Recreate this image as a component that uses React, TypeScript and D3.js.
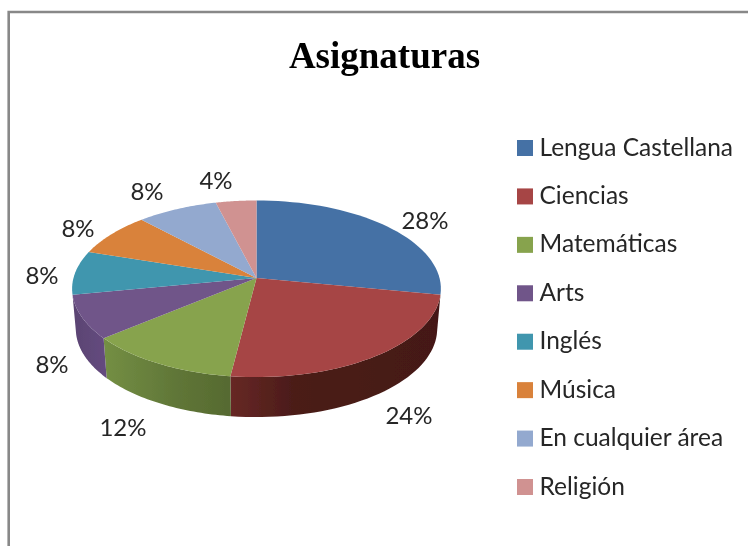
import React from "react";
import * as d3 from "d3";

const categories = ["Lengua Castellana", "Ciencias", "Matemáticas", "Arts", "Inglés", "Música", "En cualquier área", "Religión"];
const shares = [28, 24, 12, 8, 8, 8, 8, 4];
const topColors = ["#4471a5", "#a64544", "#87a34d", "#6f5489", "#3f96ae", "#d9823b", "#93a9cf", "#d09291"];
const wallStops: Record<number, [number, string][]> = {
  1: [[0, "#672825"], [0.3, "#4b1c19"], [1, "#441916"]],
  2: [[0, "#748f44"], [0.6, "#5f7537"], [1, "#566a30"]],
  3: [[0, "#5a4372"], [1, "#644b7e"]],
};
const titleText = "Asignaturas";

// layout constants
const W = 748, H = 546;
const apex = { x: 256.5, y: 278 };
const R = 183, V = 87, K = 0.122, DEPTH = 40, BOTTOM_SCALE = 0.98;
const labelAnchors: [number, number][] = [[425, 229], [409, 424], [123, 436], [52, 373], [42, 284], [78, 237], [147, 200], [216, 189]];
const FRONT = [1.75, 4.53];

const pie = d3.pie<number>().sort(null)(shares);
const sx = d3.scaleLinear().domain([-1, 1]).range([apex.x - R, apex.x + R]);
const sy = d3.scaleLinear().domain([-1, 1]).range([apex.y + V, apex.y - V]);

function project(a: number): [number, number] {
  const w = 1 + K * Math.cos(a);
  return [sx(Math.sin(a) / w), sy(Math.cos(a) / w)];
}
function projectBottom(a: number): [number, number] {
  const [x, y] = project(a);
  return [apex.x + (x - apex.x) * BOTTOM_SCALE, y + DEPTH];
}
const line = d3.line();
const steps = (a0: number, a1: number) => d3.range(0, 41).map((i) => a0 + ((a1 - a0) * i) / 40);

function topPath(a0: number, a1: number) {
  return line([[apex.x, apex.y], ...steps(a0, a1).map(project)]) + "Z";
}
function wallPath(a0: number, a1: number) {
  return line([...steps(a0, a1).map(project), ...steps(a1, a0).map(projectBottom)]) + "Z";
}

const legendY = d3.scalePoint<string>().domain(categories).range([148, 487]);

export default function App() {
  const walls = pie
    .map((s, i) => ({ i, a0: Math.max(s.startAngle, FRONT[0]), a1: Math.min(s.endAngle, FRONT[1]) }))
    .filter((d) => d.a0 < d.a1 && wallStops[d.i]);
  return (
    <svg width={W} height={H} viewBox={`0 0 ${W} ${H}`} style={{ position: "absolute", left: 0, top: 0, background: "#fff" }}>
      <defs>
        <filter id="soft" x="-5%" y="-5%" width="110%" height="110%">
          <feGaussianBlur stdDeviation="0.55" />
        </filter>
        {walls.map((d) => {
          const xs = [...steps(d.a0, d.a1).map((a) => project(a)[0])];
          return (
            <linearGradient key={d.i} id={`wall${d.i}`} gradientUnits="userSpaceOnUse" x1={d3.min(xs)} x2={d3.max(xs)} y1={0} y2={0}>
              {wallStops[d.i].map(([o, c]) => (
                <stop key={o} offset={o} stopColor={c} />
              ))}
            </linearGradient>
          );
        })}
      </defs>
      <g filter="url(#soft)">
        <path d={`M8.7 ${H + 5}V12H${W + 5}`} fill="none" stroke="#888" strokeWidth={2.6} />
        <text x={384.5} y={68} textAnchor="middle" fontFamily="Liberation Serif" fontWeight="bold" fontSize={37} fill="#000">
          {titleText}
        </text>
        {walls.map((d) => (
          <path key={d.i} d={wallPath(d.a0, d.a1)} fill={`url(#wall${d.i})`} />
        ))}
        {pie.map((s, i) => (
          <path key={i} d={topPath(s.startAngle, s.endAngle)} fill={topColors[i]} />
        ))}
        {shares.map((v, i) => (
          <text key={i} x={labelAnchors[i][0]} y={labelAnchors[i][1]} textAnchor="middle" fontFamily="Lato" fontSize={24} fill="#262626">
            {v}%
          </text>
        ))}
        {categories.map((c, i) => (
          <g key={c}>
            <rect x={517} y={legendY(c)! - 8} width={16} height={16} fill={topColors[i]} />
            <text x={539.5} y={legendY(c)! + 7.5} fontFamily="Lato" fontSize={24.5} fill="#262626">
              {c}
            </text>
          </g>
        ))}
      </g>
    </svg>
  );
}
